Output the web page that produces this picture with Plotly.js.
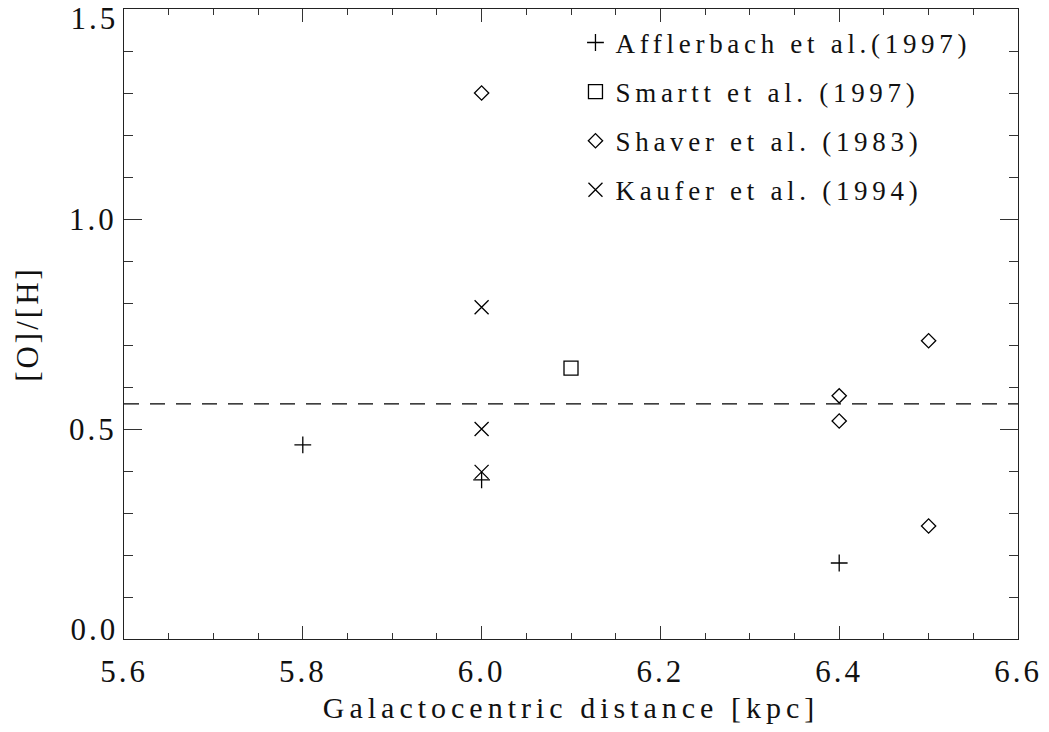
<!DOCTYPE html>
<html>
<head>
<meta charset="utf-8">
<script src="https://cdn.plot.ly/plotly-3.0.1.min.js"></script>
<style>
html,body{margin:0;padding:0;background:#fff;}
#chart{width:1049px;height:732px;}
.main-svg text{letter-spacing:3px;}
.main-svg .g-xtitle text{letter-spacing:5px;}
.main-svg .legend text{letter-spacing:4.7px;}
.main-svg .legend [clip-path]{clip-path:none !important;}
</style>
</head>
<body>
<div id="chart"></div>
<script>
// Data
const afflerbachX = [5.8, 6.0, 6.4];
const afflerbachY = [0.462, 0.379, 0.181];
const smarttX = [6.1];
const smarttY = [0.645];
const shaverX = [6.0, 6.4, 6.4, 6.5, 6.5];
const shaverY = [1.30, 0.579, 0.519, 0.710, 0.269];
const kauferX = [6.0, 6.0, 6.0];
const kauferY = [0.790, 0.500, 0.398];
const meanLineX = [5.6, 6.6];
const meanLineY = [0.56, 0.56];
const seriesNames = ['Afflerbach et al.(1997)', 'Smartt et al. (1997)', 'Shaver et al. (1983)', 'Kaufer et al. (1994)'];
const xTickVals = [5.6, 5.8, 6.0, 6.2, 6.4, 6.6];
const xTickText = ['5.6', '5.8', '6.0', '6.2', '6.4', '6.6'];
const yTickVals = [0.0, 0.5, 1.0, 1.5];
const yTickText = ['0.0', '0.5', '1.0', '1.5'];

const FONT = 'Liberation Serif, DejaVu Serif, serif';

function mk(x, y, name, symbol, size, group) {
  return {
    x: x, y: y, name: name, type: 'scatter', mode: 'markers',
    legendgroup: group,
    marker: {symbol: symbol, size: size, color: '#000', line: {color: '#000', width: 1.3}},
    cliponaxis: false
  };
}

const traces = [
  {x: meanLineX, y: meanLineY, type: 'scatter', mode: 'lines', showlegend: false,
   line: {color: '#000', width: 1.3, dash: '15px,11px'}, hoverinfo: 'skip'},
  mk(afflerbachX, afflerbachY, seriesNames[0], 'cross-thin-open', 12, 'a'),
  mk(smarttX, smarttY, seriesNames[1], 'square-open', 14, 'b'),
  mk(shaverX, shaverY, seriesNames[2], 'diamond-open', 11, 'c'),
  mk(kauferX, kauferY, seriesNames[3], 'x-thin-open', 14, 'd')
];

// Interior y tick labels are drawn by the axis; the two end labels sit just inside
// the frame (as in the reference), so they are placed as annotations at their values.
const innerIdx = [1, 2];
const endIdx = [0, 3];
const endShift = {0: 10, 3: -9.5};
const annotations = endIdx.map(i => ({
  x: 0, xref: 'paper', xanchor: 'right', xshift: -8,
  y: yTickVals[i], yref: 'y', yanchor: 'middle', yshift: endShift[i],
  text: yTickText[i], showarrow: false,
  font: {family: FONT, size: 31, color: '#111'}
}));

const layout = {
  width: 1049, height: 732,
  margin: {l: 124, r: 31, t: 9, b: 93},
  paper_bgcolor: '#fff', plot_bgcolor: '#fff',
  font: {family: FONT, color: '#111', size: 28},
  showlegend: true,
  annotations: annotations,
  legend: {
    x: 0.505, y: 0.985, xanchor: 'left', yanchor: 'top',
    bgcolor: 'rgba(0,0,0,0)', borderwidth: 0,
    font: {family: FONT, size: 27, color: '#111'},
    traceorder: 'grouped', tracegroupgap: 11, itemsizing: 'trace'
  },
  xaxis: {
    range: [5.6, 6.6], tickmode: 'array', tickvals: xTickVals, ticktext: xTickText,
    ticks: 'inside', ticklen: 13, tickwidth: 1, tickcolor: '#333',
    minor: {dtick: 0.05, tick0: 5.6, ticks: 'inside', ticklen: 6, tickwidth: 1, tickcolor: '#333'},
    showline: true, linecolor: '#222', linewidth: 1, mirror: 'allticks',
    showgrid: false, zeroline: false, ticklabeloverflow: 'allow', ticklabelstandoff: 5,
    tickfont: {family: FONT, size: 31, color: '#111'},
    title: {text: 'Galactocentric distance [kpc]', font: {family: FONT, size: 30, color: '#111'}, standoff: 8}
  },
  yaxis: {
    range: [0, 1.5], tickmode: 'array',
    tickvals: innerIdx.map(i => yTickVals[i]), ticktext: innerIdx.map(i => yTickText[i]),
    ticks: 'inside', ticklen: 18, tickwidth: 1, tickcolor: '#333',
    minor: {dtick: 0.1, tick0: 0, ticks: 'inside', ticklen: 9, tickwidth: 1, tickcolor: '#333'},
    showline: true, linecolor: '#222', linewidth: 1, mirror: 'allticks',
    showgrid: false, zeroline: false, ticklabeloverflow: 'allow',
    tickfont: {family: FONT, size: 31, color: '#111'},
    title: {text: '[O]/[H]', font: {family: FONT, size: 31, color: '#111'}, standoff: 30}
  }
};

Plotly.newPlot('chart', traces, layout, {displayModeBar: false, staticPlot: true});
</script>
</body>
</html>
